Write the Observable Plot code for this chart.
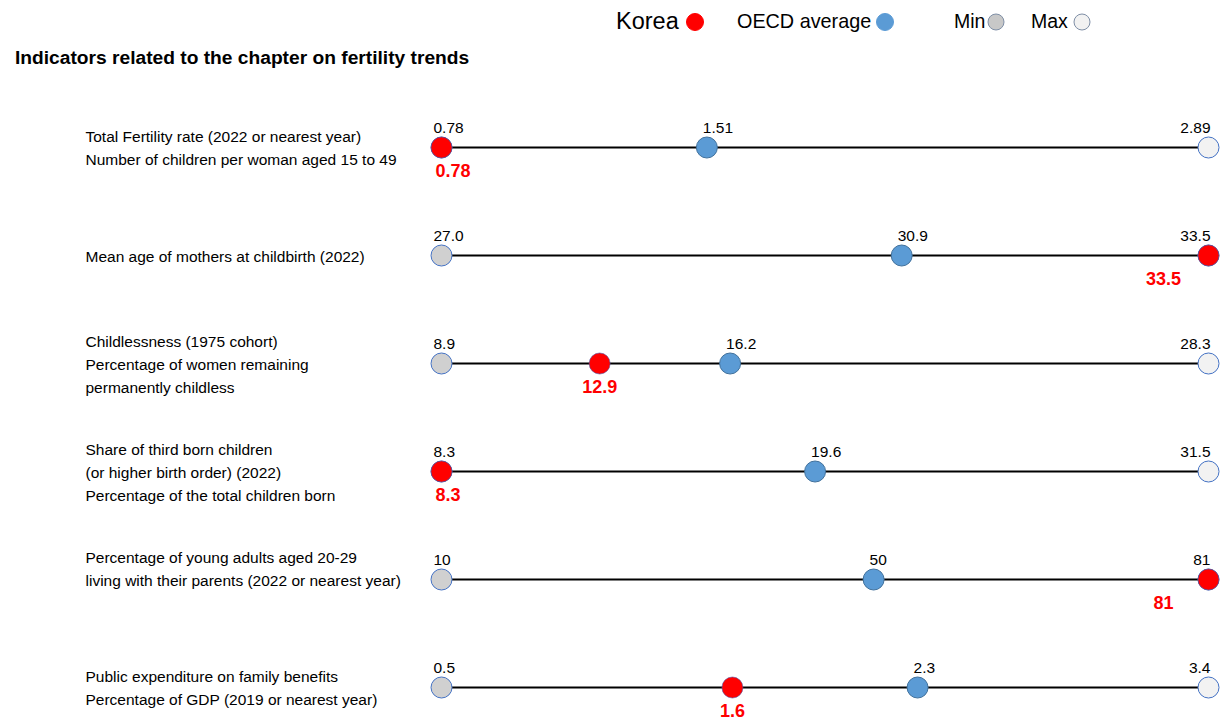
<!DOCTYPE html>
<html>
<head>
<meta charset="utf-8">
<script src="https://cdn.jsdelivr.net/npm/d3@7"></script>
<script src="https://cdn.jsdelivr.net/npm/@observablehq/plot@0.6"></script>
<style>
  html, body { margin: 0; padding: 0; background: #fff; }
  body { width: 1226px; height: 718px; position: relative; overflow: hidden;
         font-family: "Liberation Sans", Arial, sans-serif; color: #000; }
  #legend { position: absolute; top: 0; left: 0; width: 1226px; height: 44px; }
  .lg { position: absolute; top: 22px; transform: translateY(-50%); white-space: nowrap; line-height: 1; }
  .sw { position: absolute; top: 22px; transform: translate(-50%, -50%); border-radius: 50%; box-sizing: border-box; }
  #title { position: absolute; left: 15px; top: 46px; font-weight: bold; font-size: 19.2px; white-space: nowrap; line-height: 24px; }
  #chart { position: absolute; left: 0; top: 80px; }
</style>
</head>
<body>
<div id="legend"></div>
<div id="title">Indicators related to the chapter on fertility trends</div>
<div id="chart"></div>
<script>
// ---- data ----
const indicators = [
  "Total Fertility rate (2022 or nearest year)\nNumber of children per woman aged 15 to 49",
  "Mean age of mothers at childbirth (2022)",
  "Childlessness (1975 cohort)\nPercentage of women remaining\npermanently childless",
  "Share of third born children\n(or higher birth order) (2022)\nPercentage of the total children born",
  "Percentage of young adults aged 20-29\nliving with their parents (2022 or nearest year)\n",
  "Public expenditure on family benefits\nPercentage of GDP (2019 or nearest year)"
];
const minVals   = [0.78, 27.0, 8.9, 8.3, 10, 0.5];
const maxVals   = [2.89, 33.5, 28.3, 31.5, 81, 3.4];
const oecdVals  = [1.51, 30.9, 16.2, 19.6, 50, 2.3];
const koreaVals = [0.78, 33.5, 12.9, 8.3, 81, 1.6];
const minLabels   = ["0.78", "27.0", "8.9", "8.3", "10", "0.5"];
const maxLabels   = ["2.89", "33.5", "28.3", "31.5", "81", "3.4"];
const oecdLabels  = ["1.51", "30.9", "16.2", "19.6", "50", "2.3"];
const koreaLabels = ["0.78", "33.5", "12.9", "8.3", "81", "1.6"];

const legendItems = [
  {label: "Korea", color: "#ff0000", stroke: "#ff0000"},
  {label: "OECD average", color: "#5b9bd5", stroke: "#5b9bd5"},
  {label: "Min", color: "#c8c8c8", stroke: "#7f8fa6"},
  {label: "Max", color: "#f2f2f2", stroke: "#7f8fa6"}
];

// ---- legend (HTML) ----
const legend = document.getElementById("legend");
const lgLayout = [
  {tx: 616, fs: 23.5, sx: 695, sd: 18},
  {tx: 737, fs: 19.8, sx: 885, sd: 18},
  {tx: 954, fs: 19.5, sx: 996, sd: 17},
  {tx: 1031, fs: 19.5, sx: 1082, sd: 17}
];
legendItems.forEach((it, i) => {
  const L = lgLayout[i];
  const t = document.createElement("div");
  t.className = "lg"; t.textContent = it.label;
  t.style.left = L.tx + "px"; t.style.fontSize = L.fs + "px";
  legend.appendChild(t);
  const s = document.createElement("div");
  s.className = "sw";
  s.style.left = L.sx + "px"; s.style.width = L.sd + "px"; s.style.height = L.sd + "px";
  s.style.background = it.color; s.style.border = "1px solid " + it.stroke;
  legend.appendChild(s);
});

// ---- table ----
const rows = indicators.map((name, i) => {
  const mn = minVals[i], mx = maxVals[i];
  const norm = v => (v - mn) / (mx - mn);
  return {
    name, min: mn, max: mx,
    oecd: norm(oecdVals[i]), korea: norm(koreaVals[i]),
    minLabel: minLabels[i], maxLabel: maxLabels[i],
    oecdLabel: oecdLabels[i], koreaLabel: koreaLabels[i],
    koreaPos: koreaVals[i] === mn ? "min" : koreaVals[i] === mx ? "max" : "mid"
  };
});

const font = '"Liberation Sans", Arial, sans-serif';
const R = 10.5;

const chart = Plot.plot({
  width: 1226,
  height: 638,
  marginLeft: 441,
  marginRight: 18,
  marginTop: 67,
  marginBottom: 31,
  style: {fontFamily: font, background: "white", overflow: "visible"},
  x: {domain: [0, 1], axis: null},
  y: {type: "point", domain: indicators, padding: 0, axis: null},
  marks: [
    Plot.ruleY(rows, {y: "name", x1: () => 0, x2: () => 1, stroke: "black", strokeWidth: 1.8}),
    Plot.dot(rows, {x: () => 0, y: "name", r: R, fill: "#d0d0d0", stroke: "#4472c4", strokeWidth: 1}),
    Plot.dot(rows, {x: () => 1, y: "name", r: R, fill: "#f2f2f2", stroke: "#4472c4", strokeWidth: 1}),
    Plot.dot(rows, {x: "oecd", y: "name", r: R, fill: "#5b9bd5", stroke: "#41719c", strokeWidth: 1}),
    Plot.dot(rows, {x: "korea", y: "name", r: R, fill: "#ff0000", stroke: "#5050a0", strokeWidth: 0.6}),
    // value labels above
    Plot.text(rows, {x: () => 0, y: "name", text: "minLabel", textAnchor: "start", dx: -8, dy: -19, fontSize: 15.5, fill: "#000"}),
    Plot.text(rows, {x: () => 1, y: "name", text: "maxLabel", textAnchor: "end", dx: 2, dy: -19, fontSize: 15.5, fill: "#000"}),
    Plot.text(rows, {x: "oecd", y: "name", text: "oecdLabel", textAnchor: "start", dx: -4, dy: -19, fontSize: 15.5, fill: "#000"}),
    // Korea labels below
    Plot.text(rows.filter(d => d.koreaPos === "mid"), {x: "korea", y: "name", text: "koreaLabel", dy: 24, fontSize: 18, fontWeight: "bold", fill: "#ff0000"}),
    Plot.text(rows.filter(d => d.koreaPos === "min"), {x: "korea", y: "name", text: "koreaLabel", textAnchor: "start", dx: -6, dy: 24, fontSize: 18, fontWeight: "bold", fill: "#ff0000"}),
    Plot.text(rows.filter(d => d.koreaPos === "max"), {x: "korea", y: "name", text: "koreaLabel", dx: -45, dy: 24, fontSize: 18, fontWeight: "bold", fill: "#ff0000"}),
    // indicator names on the left
    Plot.text(rows, {y: "name", text: "name", frameAnchor: "left", textAnchor: "start", dx: -356, dy: -1, fontSize: 15.5, lineHeight: 1.48, fill: "#000"})
  ]
});
document.getElementById("chart").appendChild(chart);
</script>
</body>
</html>
